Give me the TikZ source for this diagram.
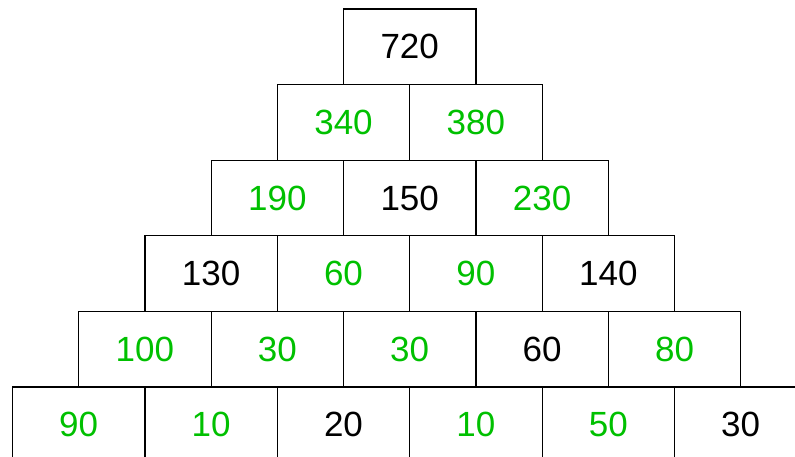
\documentclass[tikz,border=0pt]{standalone}
\usepackage{fontspec}
\setmainfont{Liberation Sans}
\usepackage{xcolor}
\usepackage{tikz}
\usetikzlibrary{positioning}

\definecolor{sumgreen}{RGB}{0,192,0}

\begin{document}
\begin{tikzpicture}[x=1pt, y=1pt,
    cell/.style={rectangle, draw, line width=1.2pt, minimum width=132.4pt, minimum height=75.6pt, inner sep=0pt, font=\fontsize{35}{40}\selectfont},
    given/.style={cell, text=black},
    found/.style={cell, text=sumgreen}]

    \useasboundingbox (0,0) rectangle (795,-456);
    \clip (0,0) rectangle (795,-456);

    % top
    \node [given] (r0a) at (409.7,-46.8) {720};
    % second row
    \node [found] (r1a) at (343.5,-122.4) {340};
    \node [found] (r1b) at (475.9,-122.4) {380};
    % third row
    \node [found] (r2a) at (277.3,-198) {190};
    \node [given] (r2b) at (409.7,-198) {150};
    \node [found] (r2c) at (542.1,-198) {230};
    % fourth row
    \node [given] (r3a) at (211.1,-273.6) {130};
    \node [found] (r3b) at (343.5,-273.6) {60};
    \node [found] (r3c) at (475.9,-273.6) {90};
    \node [given] (r3d) at (608.3,-273.6) {140};
    % fifth row
    \node [found] (r4a) at (144.9,-349.2) {100};
    \node [found] (r4b) at (277.3,-349.2) {30};
    \node [found] (r4c) at (409.7,-349.2) {30};
    \node [given] (r4d) at (542.1,-349.2) {60};
    \node [found] (r4e) at (674.5,-349.2) {80};
    % bottom row
    \node [found] (r5a) at (78.7,-424.8) {90};
    \node [found] (r5b) at (211.1,-424.8) {10};
    \node [given] (r5c) at (343.5,-424.8) {20};
    \node [found] (r5d) at (475.9,-424.8) {10};
    \node [found] (r5e) at (608.3,-424.8) {50};
    \node [given] (r5f) at (740.7,-424.8) {30};
\end{tikzpicture}
\end{document}
